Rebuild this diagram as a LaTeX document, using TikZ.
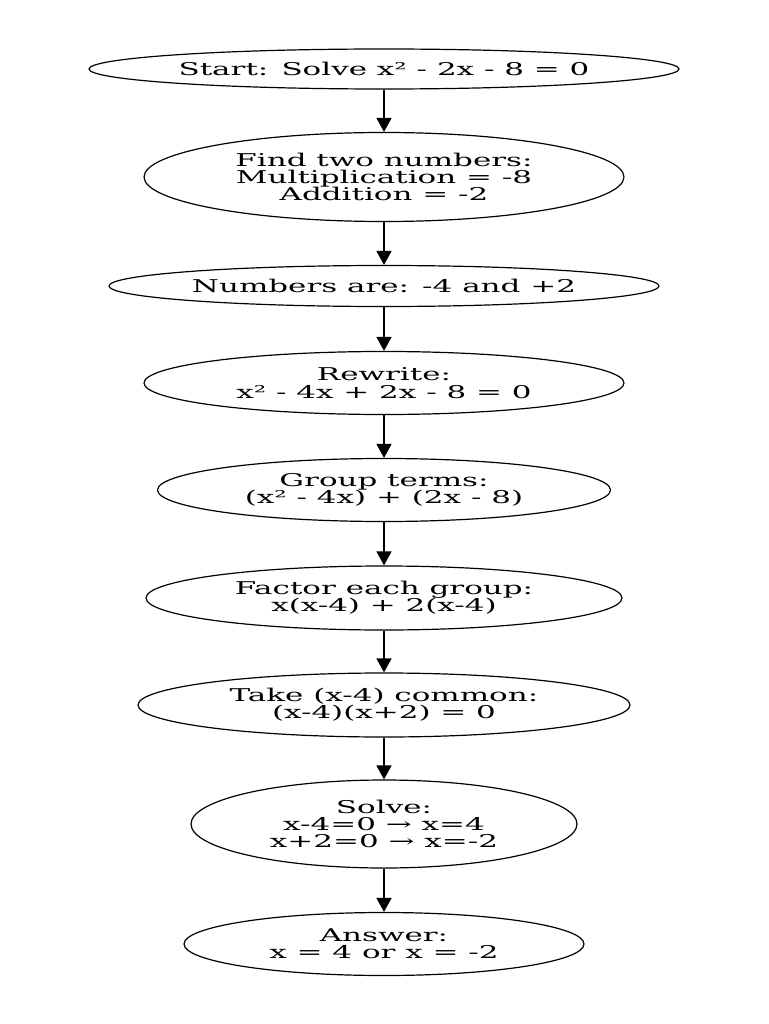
\documentclass[tikz,border=0pt]{standalone}
\usepackage{fontspec}
\setmainfont{DejaVu Serif}[FakeStretch=1.76]
\usetikzlibrary{shapes.geometric,arrows.meta}
\begin{document}
\begin{tikzpicture}[x=1pt,y=-1pt,
  stepnode/.style={ellipse,draw,line width=1.2pt,inner sep=0pt,align=center,
    font=\fontsize{17.6}{17.3}\selectfont},
  conn/.style={line width=1.6pt,-{Triangle[length=14pt,width=15pt]}}]
\useasboundingbox (0,0) rectangle (768,1024);
\node[stepnode,minimum width=590,minimum height=40] (n1) at (384,69) {Start: Solve x² - 2x - 8 = 0};
\node[stepnode,minimum width=480,minimum height=89] (n2) at (384,177) {Find two numbers:\\Multiplication = -8\\Addition = -2};
\node[stepnode,minimum width=550,minimum height=41] (n3) at (384,286) {Numbers are: -4 and +2};
\node[stepnode,minimum width=480,minimum height=63] (n4) at (384,383) {Rewrite:\\x² - 4x + 2x - 8 = 0};
\node[stepnode,minimum width=453,minimum height=63] (n5) at (384,490) {Group terms:\\(x² - 4x) + (2x - 8)};
\node[stepnode,minimum width=476,minimum height=64] (n6) at (384,598) {Factor each group:\\x(x-4) + 2(x-4)};
\node[stepnode,minimum width=492,minimum height=64] (n7) at (384,705) {Take (x-4) common:\\(x-4)(x+2) = 0};
\node[stepnode,minimum width=386,minimum height=88] (n8) at (384,824) {Solve:\\x-4=0 → x=4\\x+2=0 → x=-2};
\node[stepnode,minimum width=400,minimum height=63] (n9) at (384,944) {Answer:\\x = 4 or x = -2};
\foreach \a/\b in {n1/n2,n2/n3,n3/n4,n4/n5,n5/n6,n6/n7,n7/n8,n8/n9}
  \draw[conn] (\a) -- (\b);
\end{tikzpicture}
\end{document}
